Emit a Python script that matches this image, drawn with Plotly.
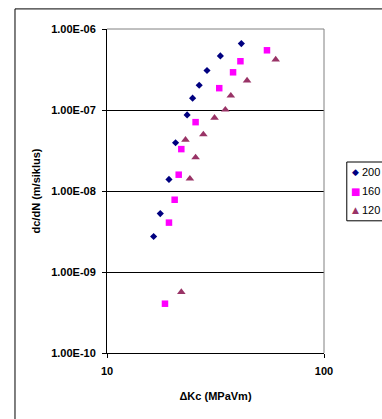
import plotly.graph_objects as go

# ---- data ----
series_names = ["200", "160", "120"]

dk_200 = [16.4, 17.6, 19.3, 20.7, 23.4, 24.8, 26.6, 28.9, 33.3, 41.6]
dcdn_200 = [2.74e-9, 5.26e-9, 1.39e-8, 3.94e-8, 8.7e-8, 1.40e-7, 2.02e-7, 3.07e-7, 4.65e-7, 6.6e-7]

dk_160 = [18.5, 19.3, 20.5, 21.4, 22.0, 25.6, 32.9, 38.1, 41.2, 54.6]
dcdn_160 = [4.06e-10, 4.07e-9, 7.8e-9, 1.59e-8, 3.29e-8, 7.08e-8, 1.86e-7, 2.92e-7, 4.0e-7, 5.46e-7]

dk_120 = [22.0, 23.0, 24.1, 25.6, 27.8, 31.3, 35.1, 37.2, 44.2, 59.9]
dcdn_120 = [5.65e-10, 4.28e-8, 1.42e-8, 2.60e-8, 4.99e-8, 8.0e-8, 1.01e-7, 1.50e-7, 2.31e-7, 4.19e-7]

y_tickvals = [1e-10, 1e-9, 1e-8, 1e-7, 1e-6]
y_ticktext = ["1.00E-10", "1.00E-09", "1.00E-08", "1.00E-07", "1.00E-06"]
x_tickvals = [10, 100]
x_ticktext = ["10", "100"]

x_title = "ΔKc (MPaVm)"
y_title = "dc/dN (m/siklus)"

FONT = "Liberation Sans, Arial, sans-serif"

fig = go.Figure()
fig.add_trace(go.Scatter(x=dk_200, y=dcdn_200, mode="markers", name=series_names[0],
                         marker=dict(symbol="diamond", size=5.5, color="#000080"), showlegend=False))
fig.add_trace(go.Scatter(x=dk_160, y=dcdn_160, mode="markers", name=series_names[1],
                         marker=dict(symbol="square", size=6.5, color="#FF00FF"), showlegend=False))
fig.add_trace(go.Scatter(x=dk_120, y=dcdn_120, mode="markers", name=series_names[2],
                         marker=dict(symbol="triangle-up", size=7.5, color="#993366"), showlegend=False))

fig.update_layout(
    width=382, height=419,
    margin=dict(l=107, r=58, t=29, b=66),
    paper_bgcolor="white", plot_bgcolor="white",
    font=dict(family=FONT, color="black", size=11),
    showlegend=False,
)
fig.update_xaxes(
    type="log", range=[1, 2],
    tickvals=x_tickvals, ticktext=x_ticktext,
    tickfont=dict(size=11, weight="bold"),
    ticks="outside", ticklen=4, tickcolor="black", ticklabelstandoff=4,
    showline=True, linecolor="black", linewidth=1,
    showgrid=False, zeroline=False,
    title=dict(text=x_title, font=dict(size=11, weight="bold"), standoff=16),
)
fig.update_yaxes(
    type="log", range=[-10, -6],
    tickvals=y_tickvals, ticktext=y_ticktext,
    tickfont=dict(size=11, weight="bold"),
    ticks="outside", ticklen=4, tickcolor="black", ticklabelstandoff=4,
    showline=True, linecolor="black", linewidth=1,
    showgrid=True, gridcolor="black", gridwidth=1,
    zeroline=False,
    title=dict(text=y_title, font=dict(size=11, weight="bold"), standoff=8),
)

# gray top/right border of plot area
fig.add_shape(type="line", xref="paper", yref="paper", x0=0, x1=1, y0=1, y1=1,
              line=dict(color="#808080", width=1))
fig.add_shape(type="line", xref="paper", yref="paper", x0=1, x1=1, y0=0, y1=1,
              line=dict(color="#808080", width=1))
# outer chart frame (cut off at right/bottom)
fig.add_shape(type="rect", xref="paper", yref="paper", x0=-0.424, x1=2, y0=-1, y1=1.062,
              line=dict(color="black", width=1), layer="below")

# legend box
fig.add_shape(type="rect", xref="paper", yref="paper", x0=1.105, x1=2, y0=0.408, y1=0.5895,
              line=dict(color="black", width=1), fillcolor="white")
leg_symbols = ["◆", "■", "▲"]
leg_colors = ["#000080", "#FF00FF", "#993366"]
leg_sizes = [9, 10, 9]
leg_y = [0.5586, 0.5, 0.4414]
for name, sym, col, sz, yy in zip(series_names, leg_symbols, leg_colors, leg_sizes, leg_y):
    fig.add_annotation(xref="paper", yref="paper", x=1.143, y=yy, text=sym, showarrow=False,
                       xanchor="center", yanchor="middle", font=dict(size=sz, color=col,
                       family="DejaVu Sans"))
    fig.add_annotation(xref="paper", yref="paper", x=1.168, y=yy, text=name, showarrow=False,
                       xanchor="left", yanchor="middle", font=dict(size=11, color="black", family=FONT))

fig.write_html("out.html", config={"displayModeBar": False},
               post_script="document.body.style.margin='0px';document.body.style.overflow='hidden';")
